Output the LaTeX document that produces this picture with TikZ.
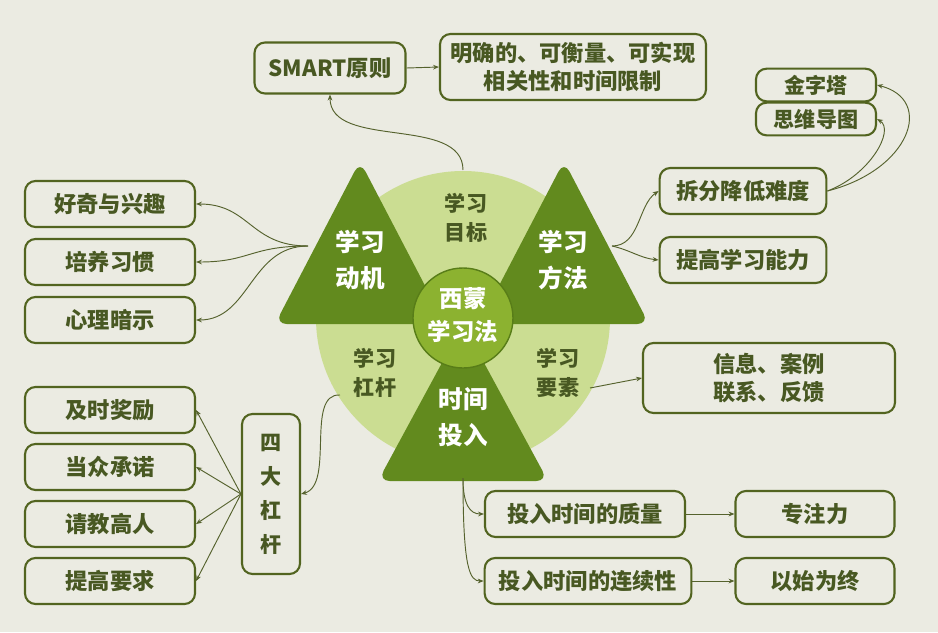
\documentclass[tikz,border=0pt]{standalone}
\usepackage{fontspec}
\newfontfamily\cjk{Noto Sans CJK SC}
\usetikzlibrary{arrows.meta}
\definecolor{paper}{RGB}{235,235,226}
\definecolor{ringfill}{RGB}{203,221,146}
\definecolor{leafgreen}{RGB}{98,138,30}
\definecolor{hubfill}{RGB}{140,178,48}
\definecolor{hubrim}{RGB}{88,125,24}
\definecolor{twigline}{RGB}{82,100,32}
\definecolor{twigtext}{RGB}{72,88,34}
\definecolor{wire}{RGB}{85,98,45}
\newcommand{\twig}[4][]{\node[twig,#1] (#2) at (#3) {#4};}

\begin{document}
\begin{tikzpicture}[
      x=0.03cm, y=-0.03cm,
      twig/.style={draw=twigline, line width=1.8pt, rounded corners=9pt, fill=paper, text=twigtext,
        font=\cjk\bfseries\fontsize{19}{24}\selectfont, align=center, inner sep=0pt,
        minimum width=5.1cm, minimum height=1.38cm},
      pointer/.style={draw=wire, line width=0.8pt, ->, >={Stealth[length=5pt,width=4pt]}},
      petal/.style={text=white, font=\cjk\bfseries\fontsize{21}{31}\selectfont, align=center},
      ringlabel/.style={text=twigtext, font=\cjk\bfseries\fontsize{18}{25}\selectfont, align=center}
      ]
      \fill[paper] (0,0) rectangle (938,632);
      \useasboundingbox (0,0) rectangle (938,632);

      % centre: ring, three petals, hub
      \fill[ringfill] (463,318) circle (147);
      \fill[leafgreen, rounded corners=10pt] (360,161) -- (445,324) -- (275,324) -- cycle;
      \fill[leafgreen, rounded corners=10pt] (564,161) -- (649,324) -- (479,324) -- cycle;
      \fill[leafgreen, rounded corners=10pt] (463,324) -- (548,481) -- (378,481) -- cycle;
      \draw[hubrim, fill=hubfill, line width=1.2pt] (463,318) circle (50);

      \node[petal] (motive) at (360,260) {学习\\动机};
      \node[petal] (method) at (563,260) {学习\\方法};
      \node[petal] (timein) at (463,417) {时间\\投入};
      \node[petal, font=\cjk\bfseries\fontsize{20}{28}\selectfont] (hub) at (463,315) {西蒙\\学习法};
      \node[ringlabel] (goal) at (466,218) {学习\\目标};
      \node[ringlabel] (lever) at (375,373) {学习\\杠杆};
      \node[ringlabel] (factor) at (558,373) {学习\\要素};

      % free ends of the connectors
      \coordinate (goalout) at (463,170);
      \coordinate (motiveout) at (308,246);
      \coordinate (methodout) at (612,246);
      \coordinate (leverout) at (340,395);
      \coordinate (factorout) at (590,388);
      \coordinate (timeout) at (463,478);

      % boxes
      \twig[minimum width=4.53cm, minimum height=1.53cm]{smart}{330,68}{SMART原则}
      \twig[minimum width=7.98cm, minimum height=1.98cm]{detail}{573,67}{明确的、可衡量、可实现\\相关性和时间限制}
      \twig[minimum width=3.6cm, minimum height=0.98cm, font=\cjk\bfseries\fontsize{18}{22}\selectfont]{pyramid}{816,85}{金字塔}
      \twig[minimum width=3.6cm, minimum height=0.98cm, font=\cjk\bfseries\fontsize{18}{22}\selectfont]{mindmap}{816,119}{思维导图}
      \twig[minimum width=5.0cm]{split}{743,191}{拆分降低难度}
      \twig[minimum width=5.0cm]{ability}{743,260}{提高学习能力}
      \twig[minimum width=7.56cm, minimum height=2.1cm]{info}{769,378}{信息、案例\\联系、反馈}
      \twig{curious}{110,204}{好奇与兴趣}
      \twig{habit}{110,262}{培养习惯}
      \twig{hint}{110,320}{心理暗示}
      \twig{reward}{110,410}{及时奖励}
      \twig{promise}{110,467}{当众承诺}
      \twig{mentor}{110,524}{请教高人}
      \twig{demand}{110,581}{提高要求}
      \twig[minimum width=1.74cm, minimum height=4.8cm, font=\cjk\bfseries\fontsize{18}{29}\selectfont]{four}{271,494}{四\\大\\杠\\杆}
      \twig[minimum width=6.0cm]{quality}{585,514}{投入时间的质量}
      \twig[minimum width=6.2cm]{steady}{588,581}{投入时间的连续性}
      \twig[minimum width=4.77cm]{focus}{815,514}{专注力}
      \twig[minimum width=4.77cm]{finish}{815,581}{以始为终}

      % connectors
      \draw[pointer] (goalout) .. controls (463,115) and (330,150) .. (smart.south);
      \draw[pointer] (smart.east) -- (detail.west);
      \draw[pointer] (methodout) .. controls (640,246) and (638,205) .. (split.west);
      \draw[pointer] (methodout) .. controls (630,250) and (640,258) .. (ability.west);
      \draw[pointer] (split.east) .. controls (910,170) and (935,100) .. (pyramid.east);
      \draw[pointer] (split.east) .. controls (870,175) and (895,130) .. (mindmap.east);
      \draw[pointer] (motiveout) .. controls (250,246) and (250,204) .. (curious.east);
      \draw[pointer] (motiveout) .. controls (250,246) and (250,262) .. (habit.east);
      \draw[pointer] (motiveout) .. controls (250,246) and (250,320) .. (hint.east);
      \draw[pointer] (factorout) -- (info.west);
      \draw[pointer] (leverout) .. controls (305,393) and (335,485) .. (four.east);
      \foreach \leaf in {reward,promise,mentor,demand}
        \draw[pointer] (four.west) -- (\leaf.east);
      \draw[pointer] (timeout) .. controls (463,505) and (470,514) .. (quality.west);
      \draw[pointer] (timeout) .. controls (463,570) and (470,581) .. (steady.west);
      \draw[pointer] (quality.east) -- (focus.west);
      \draw[pointer] (steady.east) -- (finish.west);
\end{tikzpicture}
\end{document}
